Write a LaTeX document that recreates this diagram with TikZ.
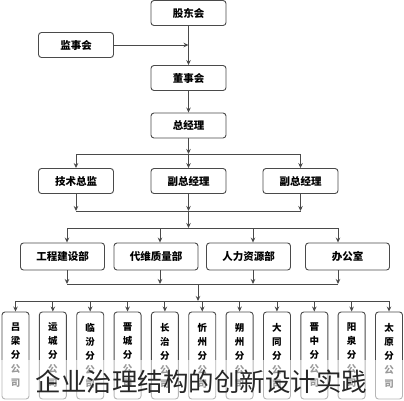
\documentclass[tikz,border=0pt]{standalone}
\usepackage{fontspec}
\newfontfamily\cjk{Noto Sans CJK SC}
\usetikzlibrary{arrows.meta}
\definecolor{ln}{HTML}{4A4A4A}
\tikzset{
  box/.style={draw=ln, line width=0.9pt, rounded corners=3pt, fill=white,
    font=\cjk\bfseries\fontsize{10.5}{12}\selectfont, inner sep=0pt},
  mainbox/.style={box, minimum width=75pt, minimum height=25pt},
  deptbox/.style={box, minimum width=84pt, minimum height=27pt},
  brbox/.style={box, minimum width=27pt, minimum height=87pt, align=center,
    font=\cjk\bfseries\fontsize{9.5}{14}\selectfont},
  wire/.style={draw=ln, line width=0.9pt},
  arr/.style={wire, -{Stealth[length=5pt,width=4.5pt]}}
}
\begin{document}
\begin{tikzpicture}[x=1pt,y=-1pt]
\useasboundingbox (0,0) rectangle (404,400);
\fill[white] (0,0) rectangle (404,400);
% top chain
\node[mainbox] (gd) at (188.5,13) {股东会};
\node[mainbox] (jsh) at (76,45) {监事会};
\node[mainbox] (dsh) at (188.5,78) {董事会};
\node[mainbox] (zjl) at (188.5,125.5) {总经理};
\draw[arr] (gd) -- (dsh);
\draw[arr] (jsh.east) -- (jsh.east -| gd.south);
\draw[arr] (dsh) -- (zjl);
% row 2
\node[mainbox] (js) at (76,181) {技术总监};
\node[mainbox] (fz1) at (188.5,181) {副总经理};
\node[mainbox] (fz2) at (300.5,181) {副总经理};
\coordinate (b1) at (188.5,154);
\coordinate (b1l) at (76,154);
\coordinate (b1r) at (300.5,154);
\draw[arr] (zjl) -- (b1);
\draw[wire] (b1l) -- (b1r);
\draw[arr] (b1l) -- (js);
\draw[arr] (b1) -- (fz1);
\draw[arr] (b1r) -- (fz2);
% merge
\coordinate (b2) at (188.5,211);
\coordinate (b2l) at (76,211);
\coordinate (b2r) at (300.5,211);
\draw[arr] (js) -- (b2l);
\draw[arr] (fz1) -- (b2);
\draw[arr] (fz2) -- (b2r);
\draw[wire] (b2l) -- (b2r);
% departments
\node[deptbox] (gc) at (62.5,256.5) {工程建设部};
\node[deptbox] (dw) at (156,256.5) {代维质量部};
\node[deptbox] (rl) at (248.5,256.5) {人力资源部};
\node[deptbox] (bg) at (347.5,256.5) {办公室};
\coordinate (b3) at (188.5,228);
\coordinate (b3a) at (67,228);
\coordinate (b3b) at (160,228);
\coordinate (b3c) at (253,228);
\coordinate (b3d) at (338,228);
\draw[arr] (b2) -- (b3);
\draw[wire] (b3a) -- (b3d);
\draw[arr] (b3a) -- (b3a |- gc.north);
\draw[arr] (b3b) -- (b3b |- dw.north);
\draw[arr] (b3c) -- (b3c |- rl.north);
\draw[arr] (b3d) -- (b3d |- bg.north);
% merge 2
\coordinate (b4a) at (67,284);
\coordinate (b4b) at (160,284);
\coordinate (b4c) at (253,284);
\coordinate (b4d) at (338,284);
\coordinate (b4m) at (198,284);
\draw[arr] (b4a |- gc.south) -- (b4a);
\draw[arr] (b4b |- dw.south) -- (b4b);
\draw[arr] (b4c |- rl.south) -- (b4c);
\draw[arr] (b4d |- bg.south) -- (b4d);
\draw[wire] (b4a) -- (b4d);
\coordinate (b5) at (198,301);
\draw[arr] (b4m) -- (b5);
% branches
\foreach \i/\t in {0/吕\\梁\\分\\公\\司, 1/运\\城\\分\\公\\司, 2/临\\汾\\分\\公\\司,
  3/晋\\城\\分\\公\\司, 4/长\\治\\分\\公\\司, 5/忻\\州\\分\\公\\司,
  6/朔\\州\\分\\公\\司, 7/大\\同\\分\\公\\司, 8/晋\\中\\分\\公\\司,
  9/阳\\泉\\分\\公\\司, 10/太\\原\\分\\公\\司}{
  \node[brbox] (br\i) at ({15.5+37.35*\i},355.5) {\t};
  \coordinate (t\i) at ({15.5+37.35*\i},301);
  \draw[arr] (t\i) -- (br\i);
}
\draw[wire] (t0) -- (t10);
% caption band
\fill[white, opacity=0.6] (0,360) rectangle (404,400);
\node[font=\cjk\fontsize{25.5}{28}\selectfont, text=black!85, inner sep=0pt] (cap) at (201.5,382) {企业治理结构的创新设计实践};
\end{tikzpicture}
\end{document}
